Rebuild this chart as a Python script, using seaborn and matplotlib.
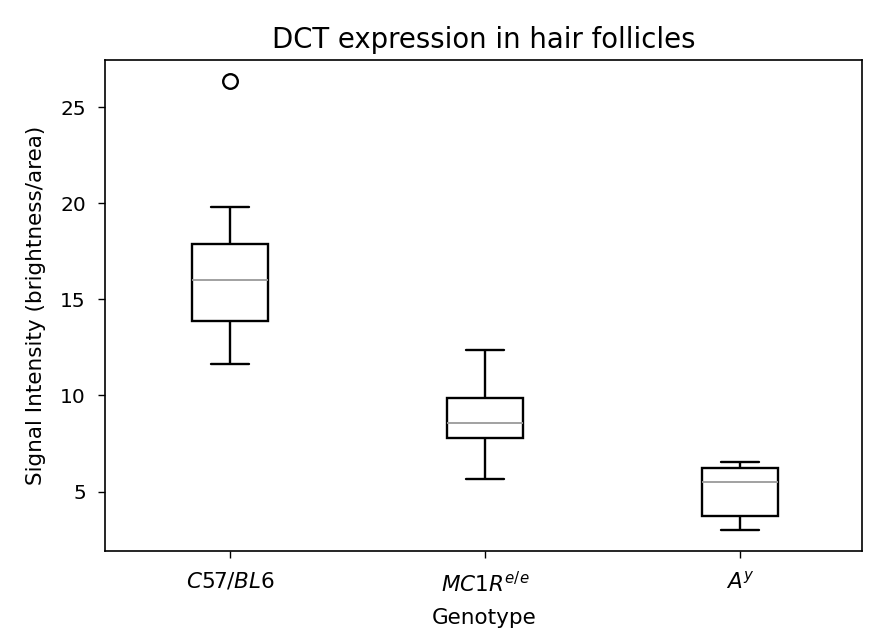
#!/usr/bin/env python3
"""
Boxplot of DCT signal intensity in hair follicles per genotype.
"""

import matplotlib
matplotlib.use("Agg")
import matplotlib.pyplot as plt
import seaborn as sns
import pandas as pd

# Genotype labels (mathtext italics as in the original figure)
genotypes = [r"$C57/BL6$", r"$MC1R^{e/e}$", r"$A^{y}$"]

# Signal intensity samples (brightness/area)
c57_values = [11.65, 12.9, 13.89, 15.0, 16.03, 17.0, 17.9, 19.78, 26.35]
mc1r_values = [5.63, 7.76, 8.59, 9.88, 12.34]
ay_values = [3.02, 3.73, 5.5, 6.2, 6.55]

y_ticks = [5, 10, 15, 20, 25]

rows = []
for name, vals in zip(genotypes, [c57_values, mc1r_values, ay_values]):
    for v in vals:
        rows.append({"genotype": name, "signal": v})
df = pd.DataFrame(rows)

sns.set_style("ticks")
plt.rcParams["font.family"] = ["DejaVu Sans"]
plt.rcParams["text.color"] = "black"
plt.rcParams["axes.labelcolor"] = "black"
plt.rcParams["xtick.color"] = "black"
plt.rcParams["ytick.color"] = "black"

fig = plt.figure(figsize=(8.7, 6.32), dpi=100)
ax = fig.add_axes([0.121, 0.128, 0.870, 0.777])

sns.boxplot(
    data=df, x="genotype", y="signal", order=genotypes,
    color="white", linecolor="black", linewidth=1.7, width=0.3,
    medianprops={"color": "#9a9a9a", "linewidth": 1.3},
    flierprops={"marker": "o", "markerfacecolor": "none",
                "markeredgecolor": "black", "markersize": 10.5,
                "markeredgewidth": 1.7},
    ax=ax,
)

ax.set_ylim(1.9, 27.45)
ax.set_xlim(-0.49, 2.48)
ax.set_yticks(y_ticks)
ax.tick_params(axis="y", labelsize=14.5, length=5, width=1, pad=9)
ax.tick_params(axis="x", labelsize=15.5, length=5, width=1, pad=9)
ax.set_title("DCT expression in hair follicles", fontsize=19.8, pad=9)
ax.set_xlabel("Genotype", fontsize=15.5, labelpad=9)
ax.set_ylabel("Signal Intensity (brightness/area)", fontsize=15.5, labelpad=10)
for s in ax.spines.values():
    s.set_linewidth(1.2)
    s.set_color("black")

fig.savefig("out.png", dpi=100)
